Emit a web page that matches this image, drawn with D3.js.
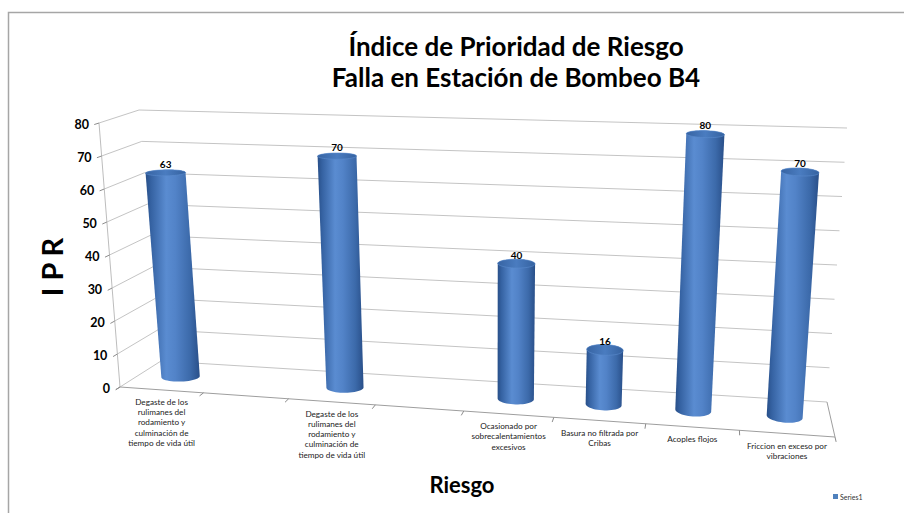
<!DOCTYPE html>
<html>
<head>
<meta charset="utf-8">
<script src="https://cdn.jsdelivr.net/npm/d3@7"></script>
<style>
  body { margin: 0; background: #fff; }
  text { font-family: Lato, 'Open Sans', sans-serif; }
</style>
</head>
<body>
<svg id="chart" width="904" height="513"></svg>
<script>
// ---- data ----
const labelOcc = ['Degaste de los', 'rulimanes del', 'rodamiento y', 'culminación de', 'tiempo de vida útil'];
const categories = [
  labelOcc,
  [],
  labelOcc,
  [],
  ['Ocasionado por', 'sobrecalentamientos', 'excesivos'],
  ['Basura no filtrada por', 'Cribas'],
  ['Acoples flojos'],
  ['Friccion en exceso por', 'vibraciones']
];
const values = [63, null, 70, null, 40, 16, 80, 70];
const yTicks = [0, 10, 20, 30, 40, 50, 60, 70, 80];
const titleLines = ['Índice de Prioridad de Riesgo', 'Falla en Estación de Bombeo B4'];
const seriesName = 'Series1';

const svg = d3.select('#chart');

// chart area border (only top and left edges fall inside the window)
svg.append('rect')
  .attr('x', 8.5).attr('y', 12.5)
  .attr('width', 1000).attr('height', 600)
  .attr('fill', '#fff')
  .attr('stroke', '#a6a6a6')
  .attr('stroke-width', 1.5);

// screen corners of the 3D plot box (front / back, left / right, bottom / top)
const box = {
  FLB: [120, 387], FRB: [835, 437], BLB: [161, 361], BRB: [827, 402],
  FLT: [99, 123],  FRT: [856, 149], BLT: [139, 110], BRT: [847, 128]
};
const lerp = (a, b, t) => [a[0] + (b[0] - a[0]) * t, a[1] + (b[1] - a[1]) * t];

// perspective squeeze along the category direction
const persp = 1.08;
const squeeze = (t) => t / (t + persp * (1 - t));

// s, v, z all in [0,1]
function project(s, v, z) {
  const fb = lerp(box.FLB, box.FRB, s), ft = lerp(box.FLT, box.FRT, s);
  const bb = lerp(box.BLB, box.BRB, s), bt = lerp(box.BLT, box.BRT, s);
  const f = lerp(fb, ft, v), b = lerp(bb, bt, v);
  return lerp(f, b, z);
}

const xScale = d3.scaleBand().domain(d3.range(categories.length)).range([0, 1]);
const yScale = d3.scaleLinear().domain([0, 80]).range([0, 1]);
const line = d3.line();

// ---- walls: gridlines ----
const grid = svg.append('g').attr('class', 'grid');
yTicks.forEach((tk) => {
  const v = yScale(tk);
  grid.append('path')
    .attr('d', line([project(0, v, 0), project(0, v, 1), project(1, v, 1)]))
    .attr('fill', 'none').attr('stroke', '#c4c4c4').attr('stroke-width', 1);
});

// y axis line + ticks + labels
const axis = svg.append('g').attr('class', 'y axis');
axis.append('path')
  .attr('d', line([project(0, 0, 0), project(0, 1, 0)]))
  .attr('stroke', '#bdbdbd').attr('fill', 'none');
yTicks.forEach((tk) => {
  const v = yScale(tk);
  const p0 = project(0, v, 0), p1 = project(0, v, 1);
  const dx = p0[0] - p1[0], dy = p0[1] - p1[1], len = Math.hypot(dx, dy);
  axis.append('path')
    .attr('d', line([p0, [p0[0] + dx / len * 5, p0[1] + dy / len * 5]]))
    .attr('stroke', '#8c8c8c');
  axis.append('text')
    .attr('x', p0[0] - 10).attr('y', p0[1] + 6)
    .attr('text-anchor', 'end')
    .style('font-size', '12.5px').style('font-weight', 'bold')
    .text(tk);
});

// floor edges + category ticks
const floor = svg.append('g').attr('class', 'x axis');
floor.append('path')
  .attr('d', line([project(0, 0, 0), project(1, 0, 0), project(1, 0, 1)]))
  .attr('fill', 'none').attr('stroke', '#9e9e9e').attr('stroke-width', 1);
d3.range(categories.length + 1).forEach((i) => {
  const s = squeeze(i / categories.length);
  const p0 = project(s, 0, 0), p1 = project(s, 0, 1);
  const dx = p0[0] - p1[0], dy = p0[1] - p1[1], len = Math.hypot(dx, dy);
  floor.append('path')
    .attr('d', line([p0, [p0[0] + dx / len * 5, p0[1] + dy / len * 5]]))
    .attr('stroke', '#8c8c8c');
});

// category labels
categories.forEach((lines, i) => {
  const s = squeeze(xScale(i) + xScale.bandwidth() / 2);
  const p = project(s, 0, 0);
  const t = floor.append('text')
    .attr('text-anchor', 'middle')
    .style('font-size', '8.2px').style('fill', '#222');
  lines.forEach((ln, j) => {
    t.append('tspan').attr('x', p[0]).attr('y', p[1] + 15 + j * 10.2).text(ln);
  });
});

// ---- cylinders ----
const defs = svg.append('defs');
const bodyGrad = defs.append('linearGradient').attr('id', 'cylBody')
  .attr('x1', 0).attr('x2', 1).attr('y1', 0).attr('y2', 0);
[[0, '#284f88'], [0.1, '#3562a2'], [0.38, '#5a8cd1'], [0.55, '#5283c8'], [0.82, '#3c6aaa'], [1, '#294f89']]
  .forEach(([o, c]) => bodyGrad.append('stop').attr('offset', o).attr('stop-color', c));
const topGrad = defs.append('linearGradient').attr('id', 'cylTop')
  .attr('x1', 0).attr('x2', 1).attr('y1', 0).attr('y2', 0);
[[0, '#3764a3'], [0.5, '#4a7cc0'], [1, '#3562a0']]
  .forEach(([o, c]) => topGrad.append('stop').attr('offset', o).attr('stop-color', c));

const rs = 0.026, rz = 0.18, zc = 0.5;
function ring(sc, v) {
  return d3.range(48).map((k) => {
    const a = k / 48 * 2 * Math.PI;
    return project(sc + rs * Math.cos(a), v, zc + rz * Math.sin(a));
  });
}

const bars = svg.append('g').attr('class', 'bars');
values.forEach((val, i) => {
  if (val == null) { return; }
  const sc = squeeze(xScale(i) + xScale.bandwidth() / 2);
  const v = yScale(val);
  const bottom = ring(sc, 0), top = ring(sc, v);
  const hull = d3.polygonHull(bottom.concat(top));
  bars.append('path')
    .attr('d', 'M' + hull.join('L') + 'Z')
    .attr('fill', 'url(#cylBody)');
  bars.append('path')
    .attr('d', 'M' + top.join('L') + 'Z')
    .attr('fill', 'url(#cylTop)')
    .attr('stroke', '#5a8bcc').attr('stroke-width', 0.6);
  const c = project(sc, v, zc);
  bars.append('text')
    .attr('x', c[0]).attr('y', c[1] - 5)
    .attr('text-anchor', 'middle')
    .style('font-size', '10px').style('font-weight', 'bold')
    .text(val);
});

// ---- titles ----
svg.append('text')
  .attr('text-anchor', 'middle')
  .style('font-size', '26px').style('font-weight', 'bold')
  .selectAll('tspan').data(titleLines).join('tspan')
  .attr('x', 516).attr('y', (d, i) => 56 + i * 31)
  .text((d) => d);

svg.append('text')
  .attr('transform', 'translate(63,267) rotate(-90)')
  .attr('text-anchor', 'middle')
  .style('font-size', '29px').style('font-weight', 'bold')
  .text('I P R');

svg.append('text')
  .attr('x', 462).attr('y', 493)
  .attr('text-anchor', 'middle')
  .style('font-size', '22px').style('font-weight', 'bold')
  .text('Riesgo');

// legend
svg.append('rect')
  .attr('x', 833).attr('y', 494).attr('width', 5).attr('height', 5)
  .attr('fill', '#4f81bd');
svg.append('text')
  .attr('x', 840).attr('y', 499.5)
  .style('font-size', '7px').style('fill', '#333')
  .text(seriesName);
</script>
</body>
</html>
